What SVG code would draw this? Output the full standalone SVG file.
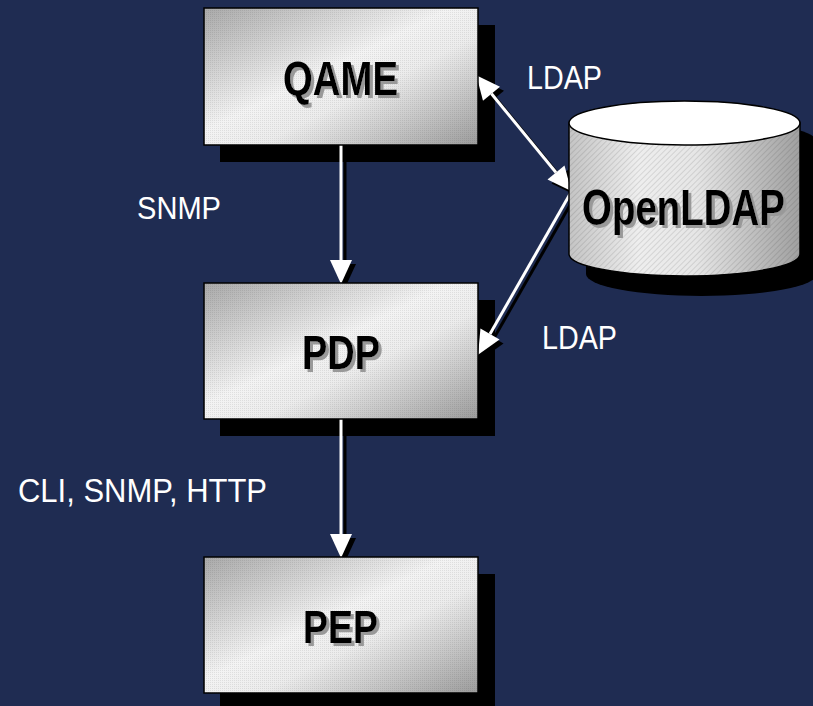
<svg xmlns="http://www.w3.org/2000/svg" width="813" height="706" viewBox="0 0 813 706">
  <style>
    .lbl { font-family: "Liberation Sans", Arial, sans-serif; fill: #ffffff; }
    .nlbl { font-family: "Liberation Sans", Arial, sans-serif; font-weight: bold; fill: #000000; filter: url(#tshadow); }
    .box { fill: url(#boxGrad); stroke: #000; stroke-width: 1.5; }
    .tex { fill: url(#dots); stroke: none; }
    .shadow { fill: #000; }
    .wline { stroke: #fff; stroke-width: 3; fill: none; }
    .bline { stroke: #000; stroke-width: 3; fill: none; }
  </style>
  <defs>
    <filter id="tshadow" x="-10%" y="-20%" width="130%" height="150%">
      <feOffset in="SourceAlpha" dx="2.5" dy="2.5" result="off"/>
      <feFlood flood-color="#999999"/>
      <feComposite in2="off" operator="in" result="sh"/>
      <feMerge>
        <feMergeNode in="sh"/>
        <feMergeNode in="SourceGraphic"/>
      </feMerge>
    </filter>
    <linearGradient id="boxGrad" x1="0" y1="0" x2="1" y2="1">
      <stop offset="0" stop-color="#a9a9a9"/>
      <stop offset="0.45" stop-color="#f3f3f3"/>
      <stop offset="0.6" stop-color="#ececec"/>
      <stop offset="1" stop-color="#9c9c9c"/>
    </linearGradient>
    <linearGradient id="cylGrad" x1="0" y1="0" x2="1" y2="0">
      <stop offset="0" stop-color="#c4c4c4"/>
      <stop offset="0.3" stop-color="#eeeeee"/>
      <stop offset="0.55" stop-color="#e6e6e6"/>
      <stop offset="1" stop-color="#a0a0a0"/>
    </linearGradient>
    <pattern id="dots" width="2" height="2" patternUnits="userSpaceOnUse">
      <rect x="0" y="0" width="1" height="1" fill="#000" fill-opacity="0.08"/>
    </pattern>
    <pattern id="hatch" width="4" height="4" patternUnits="userSpaceOnUse" patternTransform="rotate(45)">
      <rect x="0" y="0" width="1" height="4" fill="#000" fill-opacity="0.1"/>
    </pattern>
    <marker id="headW" markerUnits="userSpaceOnUse" markerWidth="26" markerHeight="24" refX="0" refY="11" orient="auto-start-reverse" overflow="visible">
      <path d="M0,0 L24,11 L0,22 Z" fill="#fff"/>
    </marker>
    <marker id="headB" markerUnits="userSpaceOnUse" markerWidth="26" markerHeight="24" refX="0" refY="11" orient="auto-start-reverse" overflow="visible">
      <path d="M0,0 L24,11 L0,22 Z" fill="#000"/>
    </marker>
  </defs>

  <rect x="0" y="0" width="813" height="706" fill="#1f2c52"/>

  <g id="shadows">
    <rect class="shadow" x="220" y="25" width="275" height="137"/>
    <rect class="shadow" x="220" y="300" width="275" height="136"/>
    <rect class="shadow" x="220" y="574" width="275" height="136"/>
    <path class="shadow" d="M586,142 L586,274 A115.5,22 0 0 0 817,274 L817,142 A115.5,22 0 0 0 586,142 Z"/>
  </g>

  <g id="connectors">
    <g transform="translate(4,4)">
      <line class="bline" x1="341" y1="145" x2="341" y2="260" marker-end="url(#headB)"/>
      <line class="bline" x1="341" y1="419" x2="341" y2="534" marker-end="url(#headB)"/>
      <line class="bline" x1="491.5" y1="93.7" x2="556" y2="172.5" marker-start="url(#headB)" marker-end="url(#headB)"/>
      <line class="bline" x1="570" y1="194" x2="490" y2="334" marker-end="url(#headB)"/>
    </g>
    <line class="wline" x1="341" y1="145" x2="341" y2="260" marker-end="url(#headW)"/>
    <line class="wline" x1="341" y1="419" x2="341" y2="534" marker-end="url(#headW)"/>
    <line class="wline" x1="491.5" y1="93.7" x2="556" y2="172.5" marker-start="url(#headW)" marker-end="url(#headW)"/>
    <line class="wline" x1="570" y1="194" x2="490" y2="334" marker-end="url(#headW)"/>
  </g>

  <g id="qame">
    <rect class="box" x="204" y="8" width="274" height="137"/>
    <rect class="tex" x="204" y="8" width="274" height="137"/>
    <text class="nlbl" x="283" y="95" font-size="48" textLength="115" lengthAdjust="spacingAndGlyphs">QAME</text>
  </g>

  <g id="pdp">
    <rect class="box" x="204" y="283" width="274" height="136"/>
    <rect class="tex" x="204" y="283" width="274" height="136"/>
    <text class="nlbl" x="302" y="369" font-size="49" textLength="78" lengthAdjust="spacingAndGlyphs">PDP</text>
  </g>

  <g id="pep">
    <rect class="box" x="204" y="557" width="274" height="136"/>
    <rect class="tex" x="204" y="557" width="274" height="136"/>
    <text class="nlbl" x="303" y="643" font-size="46" textLength="75" lengthAdjust="spacingAndGlyphs">PEP</text>
  </g>

  <g id="openldap">
    <path d="M569,123 L569,254 A115.5,22 0 0 0 800,254 L800,123 Z" fill="url(#cylGrad)" stroke="#000" stroke-width="1.5"/>
    <path d="M569,123 L569,254 A115.5,22 0 0 0 800,254 L800,123 Z" fill="url(#hatch)"/>
    <ellipse cx="684.5" cy="123" rx="115.5" ry="22" fill="#fff" stroke="#000" stroke-width="1.5"/>
    <text class="nlbl" x="582" y="225" font-size="50" textLength="203" lengthAdjust="spacingAndGlyphs">OpenLDAP</text>
  </g>

  <g id="labels">
    <text class="lbl" x="527" y="89" font-size="33" textLength="75" lengthAdjust="spacingAndGlyphs">LDAP</text>
    <text class="lbl" x="137" y="219" font-size="31" textLength="84" lengthAdjust="spacingAndGlyphs">SNMP</text>
    <text class="lbl" x="542" y="349" font-size="33" textLength="75" lengthAdjust="spacingAndGlyphs">LDAP</text>
    <text class="lbl" x="18" y="502" font-size="34" textLength="249" lengthAdjust="spacingAndGlyphs">CLI, SNMP, HTTP</text>
  </g>
</svg>
